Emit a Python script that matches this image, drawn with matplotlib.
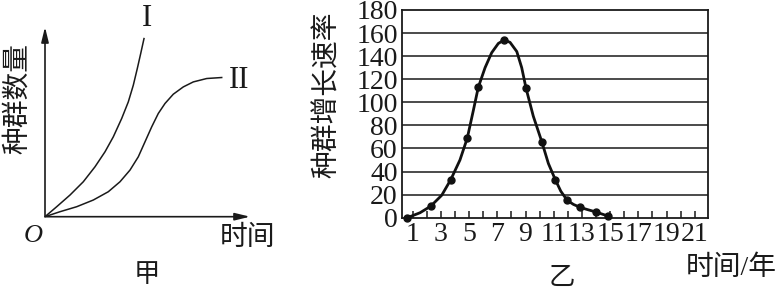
import numpy as np
import matplotlib.pyplot as plt

plt.rcParams['font.family'] = ['Liberation Serif', 'Noto Sans CJK SC', 'DejaVu Sans']

# 甲: 两条增长曲线 (读图所得, 任意单位)
t_j = [0, 11.7, 25, 38.3, 50, 60, 68.3, 76.7, 83.3, 88.3, 92.3, 95.7, 99]
n_j = [0, 10, 21.7, 35, 50, 65, 80, 98.4, 115, 131.7, 148.4, 163.4, 178.4]
t_s = [0, 15, 31.7, 48.3, 63.3, 75, 85, 93.3, 100, 106.7, 113.3, 120, 128.3, 138.3,
       148.3, 161.7, 176.7]
n_s = [0, 5, 10, 16.7, 25, 35, 46.7, 60, 75, 90, 103.4, 113.4, 122.7, 130,
       135, 138.4, 139.4]

# 乙: 种群增长速率
anio_pts = [0.62, 2.28, 3.70, 4.87, 5.65, 7.48, 9.04, 10.15, 11.11, 11.96, 12.87, 13.98, 14.83]
tasa_pts = [0, 10, 33, 69, 113, 154, 112, 66, 33, 15, 9, 5, 1.5]
anio_curva = [0.62, 1.52, 2.28, 3.06, 3.70, 4.35, 4.87, 5.30, 5.65, 6.13, 6.6, 7.07, 7.48, 7.9,
              8.38, 8.73, 9.04, 9.55, 10.15, 10.62, 11.11, 11.5, 11.96, 12.4, 12.87, 13.4, 13.98, 14.83]
tasa_curva = [0, 4.3, 10, 19.5, 33, 50, 69, 93, 113, 130, 143, 151, 154, 152,
              144, 130, 112, 88, 66, 47, 33, 23, 15, 11.5, 9, 7, 5, 1.5]
ticks_x = list(range(1, 22))
ticks_y = list(range(0, 181, 20))

W, H = 780, 293
fig = plt.figure(figsize=(W / 100, H / 100), dpi=100)
tinta = '#1a1a1a'


def caja(x0, y_top, x1, y_bot):
    return [x0 / W, 1 - y_bot / H, (x1 - x0) / W, (y_bot - y_top) / H]


# ---- 甲 ----
ax1 = fig.add_axes(caja(45, 27, 250, 216.7))
ax1.set_xlim(0, 205)
ax1.set_ylim(0, 190)
ax1.axis('off')
ax1.plot(t_j, n_j, color=tinta, lw=1.1, solid_joinstyle='round')
ax1.plot(t_s, n_s, color=tinta, lw=1.1, solid_joinstyle='round')
flecha = dict(arrowstyle='-|>,head_length=0.9,head_width=0.22', color=tinta, lw=1.2,
              shrinkA=0, shrinkB=0)
ax1.annotate('', xy=(205, 0), xytext=(0, 0), arrowprops=flecha, annotation_clip=False)
ax1.annotate('', xy=(0, 190), xytext=(0, 0), arrowprops=flecha, annotation_clip=False)

fig.text(18 / W, 1 - 98 / H, '种群数量', rotation=90, ha='center', va='center', fontsize=20,
         color=tinta)
fig.text(33 / W, 1 - 236 / H, 'O', style='italic', ha='center', va='center', fontsize=19,
         color=tinta)
fig.text(248 / W, 1 - 238 / H, '时间', ha='center', va='center', fontsize=20, color=tinta)
fig.text(147 / W, 1 - 276 / H, '甲', ha='center', va='center', fontsize=19, color=tinta)
fig.text(147 / W, 1 - 19 / H, 'I', ha='center', va='center', fontsize=22, color=tinta)
fig.text(239 / W, 1 - 81 / H, 'II', ha='center', va='center', fontsize=22, color=tinta)

# ---- 乙 ----
ax2 = fig.add_axes(caja(402, 10, 708, 217.7))
ax2.set_xlim(0.24, 21.94)
ax2.set_ylim(0, 180)
for s in ax2.spines.values():
    s.set_linewidth(1.3)
    s.set_color(tinta)
for v in ticks_y[1:-1]:
    ax2.axhline(v, color=tinta, lw=1.1)
ax2.plot(anio_curva, tasa_curva, color='#111111', lw=2.0, solid_joinstyle='round', zorder=3)
ax2.plot(anio_pts, tasa_pts, 'o', color='#111111', ms=5, zorder=4, clip_on=False)

ax2.set_xticks(ticks_x)
ax2.set_xticklabels([str(v) if v % 2 == 1 else '' for v in ticks_x])
ax2.tick_params(axis='x', direction='in', length=5, width=1.1, color=tinta, pad=3,
                labelsize=20, labelcolor=tinta)
ax2.set_yticks(ticks_y)
ax2.tick_params(axis='y', length=0, pad=3, labelsize=20, labelcolor=tinta)

fig.text(328 / W, 1 - 95 / H, '种群增长速率', rotation=90, ha='center', va='center',
         fontsize=20, color=tinta)
fig.text(731 / W, 1 - 268 / H, '时间/年', ha='center', va='center', fontsize=20,
         color=tinta)
fig.text(562 / W, 1 - 279 / H, '乙', ha='center', va='center', fontsize=19, color=tinta)

fig.savefig('out.png', dpi=100)
